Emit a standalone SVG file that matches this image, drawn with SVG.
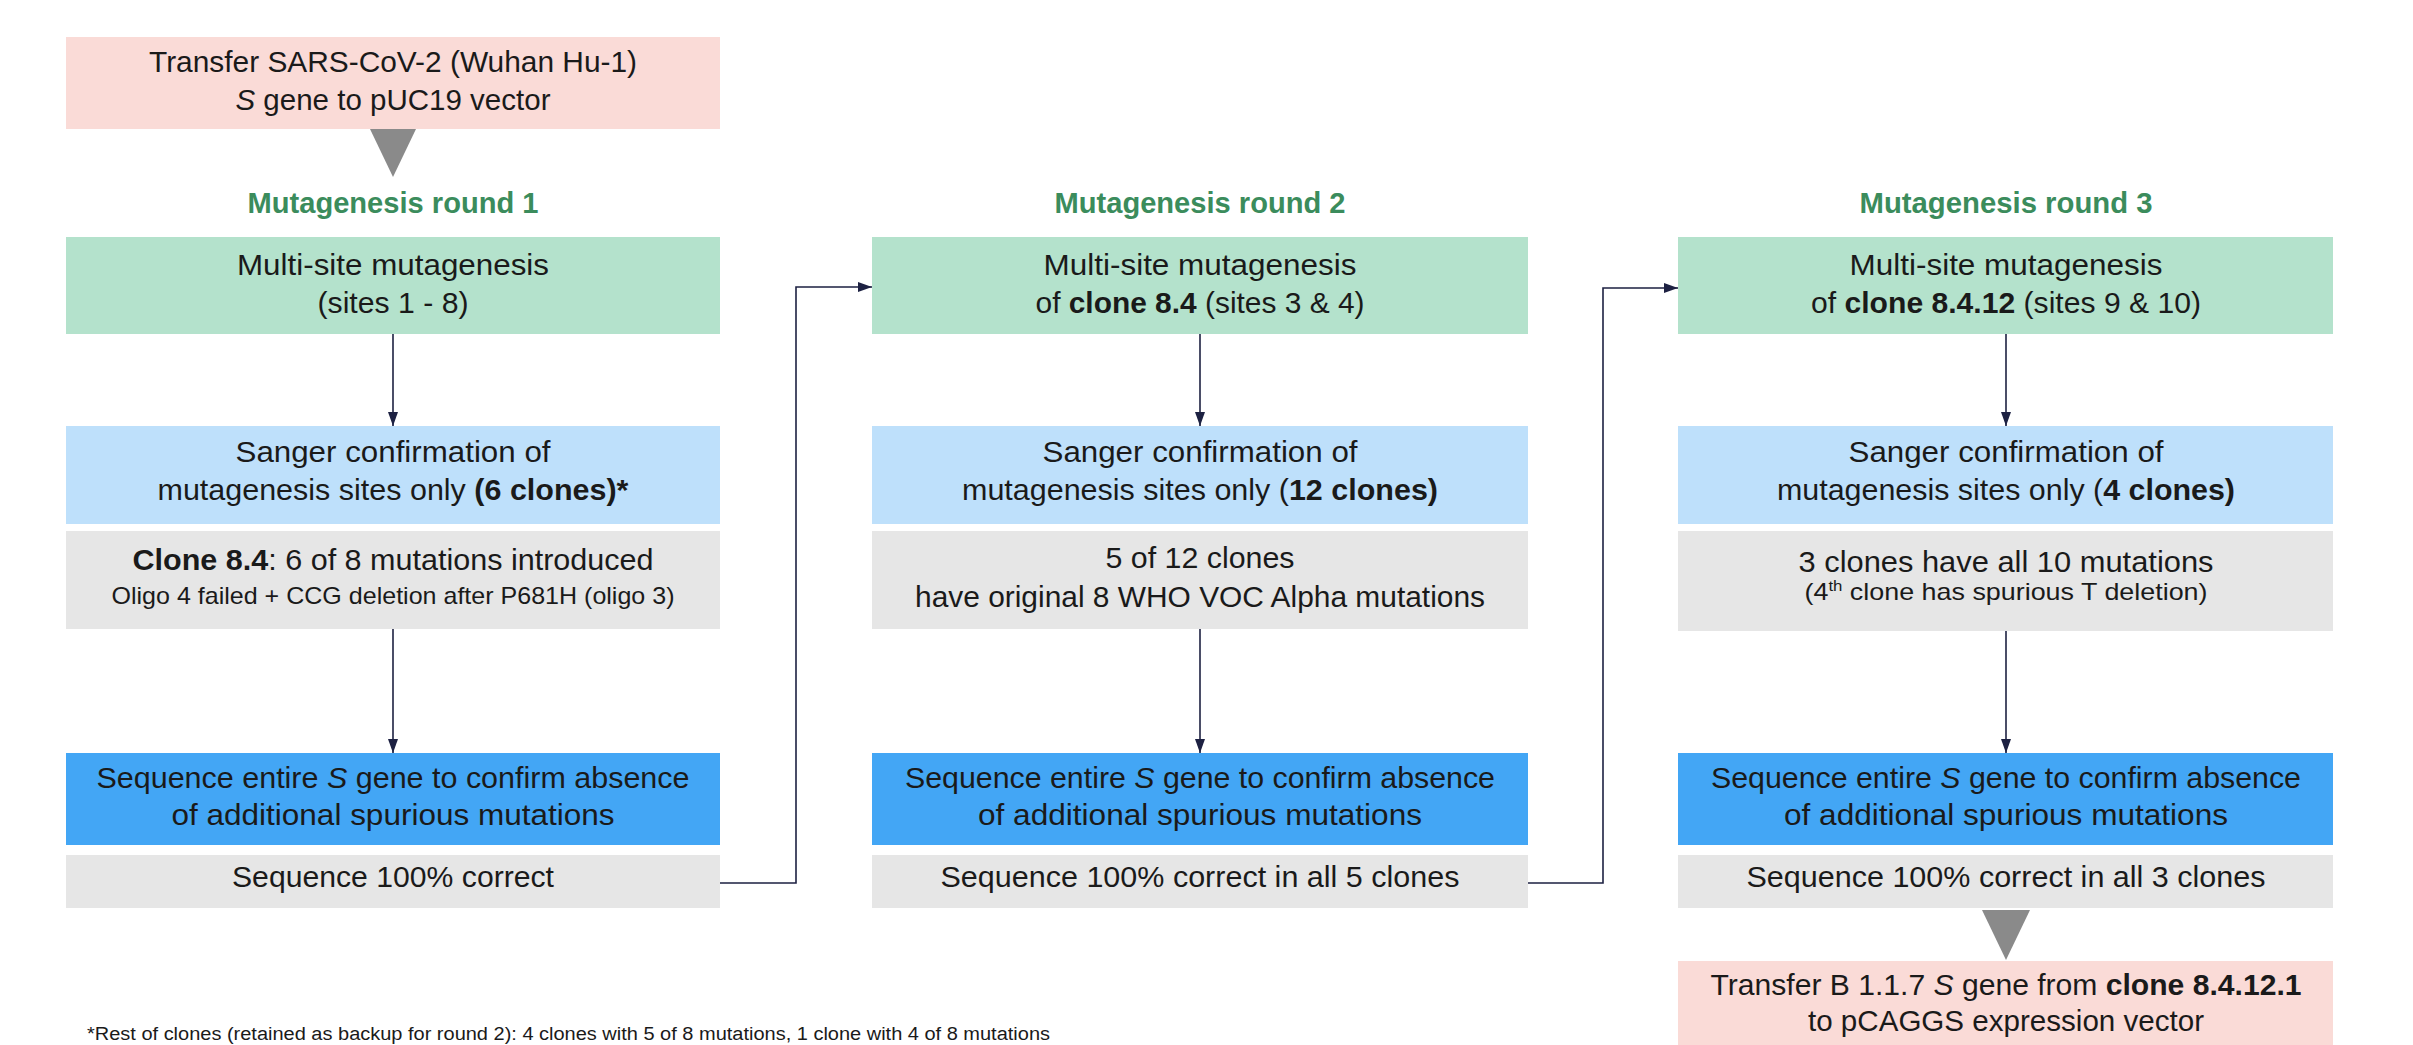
<svg xmlns="http://www.w3.org/2000/svg" width="2413" height="1045" viewBox="0 0 2413 1045">
<style>
  .t { font-family: "Liberation Sans", Arial, sans-serif; font-size: 29px; fill: #1a1a1a; text-anchor: middle; }
  .s { font-size: 24px; }
  .title { font-family: "Liberation Sans", Arial, sans-serif; font-size: 29px; font-weight: bold; fill: #3b8c5c; text-anchor: middle; }
  .b { font-weight: bold; }
  .i { font-style: italic; }
  .pink { fill: #fadbd7; }
  .green { fill: #b4e2cc; }
  .lblue { fill: #bee0fb; }
  .grey { fill: #e6e6e6; }
  .blue { fill: #43a6f5; }
  .tri { fill: #8a8a8a; }
  .conn { fill: none; stroke: #1d2142; stroke-width: 1.6; }
  .foot { font-family: "Liberation Sans", Arial, sans-serif; font-size: 18px; fill: #1a1a1a; }
</style>
<defs>
  <marker id="ah" viewBox="0 0 14 10" refX="14" refY="5" markerWidth="14" markerHeight="10" markerUnits="userSpaceOnUse" orient="auto">
    <path d="M0,0 L14,5 L0,10 z" fill="#1d2142"/>
  </marker>
</defs>
<rect width="2413" height="1045" fill="#ffffff"/>

<!-- Column 1 -->
<g id="start">
  <rect class="pink" x="66" y="37" width="654" height="92"/>
  <text class="t" x="393" y="72" textLength="488" lengthAdjust="spacingAndGlyphs">Transfer SARS-CoV-2 (Wuhan Hu-1)</text>
  <text class="t" x="393" y="110" textLength="315" lengthAdjust="spacingAndGlyphs"><tspan class="i">S</tspan> gene to pUC19 vector</text>
</g>
<g id="tri1"><polygon class="tri" points="370,129 416,129 393,177"/></g>
<g id="title1"><text class="title" x="393" y="213" textLength="291" lengthAdjust="spacingAndGlyphs">Mutagenesis round 1</text></g>
<g id="r1-mut">
  <rect class="green" x="66" y="237" width="654" height="97"/>
  <text class="t" x="393" y="275" textLength="312" lengthAdjust="spacingAndGlyphs">Multi-site mutagenesis</text>
  <text class="t" x="393" y="313" textLength="151" lengthAdjust="spacingAndGlyphs">(sites 1 - 8)</text>
</g>
<g id="r1-sanger">
  <rect class="lblue" x="66" y="426" width="654" height="98"/>
  <text class="t" x="393" y="462" textLength="315" lengthAdjust="spacingAndGlyphs">Sanger confirmation of</text>
  <text class="t" x="393" y="500" textLength="471" lengthAdjust="spacingAndGlyphs">mutagenesis sites only <tspan class="b">(6 clones)*</tspan></text>
</g>
<g id="r1-result">
  <rect class="grey" x="66" y="531" width="654" height="98"/>
  <text class="t" x="393" y="570" textLength="521" lengthAdjust="spacingAndGlyphs"><tspan class="b">Clone 8.4</tspan>: 6 of 8 mutations introduced</text>
  <text class="t s" x="393" y="604" textLength="563" lengthAdjust="spacingAndGlyphs">Oligo 4 failed + CCG deletion after P681H (oligo 3)</text>
</g>
<g id="r1-seq">
  <rect class="blue" x="66" y="753" width="654" height="92"/>
  <text class="t" x="393" y="788" textLength="593" lengthAdjust="spacingAndGlyphs">Sequence entire <tspan class="i">S</tspan> gene to confirm absence</text>
  <text class="t" x="393" y="825" textLength="443" lengthAdjust="spacingAndGlyphs">of additional spurious mutations</text>
</g>
<g id="r1-ok">
  <rect class="grey" x="66" y="855" width="654" height="53"/>
  <text class="t" x="393" y="887" textLength="322" lengthAdjust="spacingAndGlyphs">Sequence 100% correct</text>
</g>

<!-- Column 2 -->
<g id="title2"><text class="title" x="1200" y="213" textLength="291" lengthAdjust="spacingAndGlyphs">Mutagenesis round 2</text></g>
<g id="r2-mut">
  <rect class="green" x="872" y="237" width="656" height="97"/>
  <text class="t" x="1200" y="275" textLength="313" lengthAdjust="spacingAndGlyphs">Multi-site mutagenesis</text>
  <text class="t" x="1200" y="313" textLength="329" lengthAdjust="spacingAndGlyphs">of <tspan class="b">clone 8.4</tspan> (sites 3 &amp; 4)</text>
</g>
<g id="r2-sanger">
  <rect class="lblue" x="872" y="426" width="656" height="98"/>
  <text class="t" x="1200" y="462" textLength="315" lengthAdjust="spacingAndGlyphs">Sanger confirmation of</text>
  <text class="t" x="1200" y="500" textLength="476" lengthAdjust="spacingAndGlyphs">mutagenesis sites only (<tspan class="b">12 clones)</tspan></text>
</g>
<g id="r2-result">
  <rect class="grey" x="872" y="531" width="656" height="98"/>
  <text class="t" x="1200" y="568" textLength="189" lengthAdjust="spacingAndGlyphs">5 of 12 clones</text>
  <text class="t" x="1200" y="607" textLength="570" lengthAdjust="spacingAndGlyphs">have original 8 WHO VOC Alpha mutations</text>
</g>
<g id="r2-seq">
  <rect class="blue" x="872" y="753" width="656" height="92"/>
  <text class="t" x="1200" y="788" textLength="590" lengthAdjust="spacingAndGlyphs">Sequence entire <tspan class="i">S</tspan> gene to confirm absence</text>
  <text class="t" x="1200" y="825" textLength="444" lengthAdjust="spacingAndGlyphs">of additional spurious mutations</text>
</g>
<g id="r2-ok">
  <rect class="grey" x="872" y="855" width="656" height="53"/>
  <text class="t" x="1200" y="887" textLength="519" lengthAdjust="spacingAndGlyphs">Sequence 100% correct in all 5 clones</text>
</g>

<!-- Column 3 -->
<g id="title3"><text class="title" x="2006" y="213" textLength="293" lengthAdjust="spacingAndGlyphs">Mutagenesis round 3</text></g>
<g id="r3-mut">
  <rect class="green" x="1678" y="237" width="655" height="97"/>
  <text class="t" x="2006" y="275" textLength="313" lengthAdjust="spacingAndGlyphs">Multi-site mutagenesis</text>
  <text class="t" x="2006" y="313" textLength="390" lengthAdjust="spacingAndGlyphs">of <tspan class="b">clone 8.4.12</tspan> (sites 9 &amp; 10)</text>
</g>
<g id="r3-sanger">
  <rect class="lblue" x="1678" y="426" width="655" height="98"/>
  <text class="t" x="2006" y="462" textLength="315" lengthAdjust="spacingAndGlyphs">Sanger confirmation of</text>
  <text class="t" x="2006" y="500" textLength="458" lengthAdjust="spacingAndGlyphs">mutagenesis sites only (<tspan class="b">4 clones)</tspan></text>
</g>
<g id="r3-result">
  <rect class="grey" x="1678" y="531" width="655" height="100"/>
  <text class="t" x="2006" y="572" textLength="415" lengthAdjust="spacingAndGlyphs">3 clones have all 10 mutations</text>
  <text class="t s" x="2006" y="600" textLength="403" lengthAdjust="spacingAndGlyphs">(4<tspan font-size="15" dy="-9">th</tspan><tspan dy="9"> clone has spurious T deletion)</tspan></text>
</g>
<g id="r3-seq">
  <rect class="blue" x="1678" y="753" width="655" height="92"/>
  <text class="t" x="2006" y="788" textLength="590" lengthAdjust="spacingAndGlyphs">Sequence entire <tspan class="i">S</tspan> gene to confirm absence</text>
  <text class="t" x="2006" y="825" textLength="444" lengthAdjust="spacingAndGlyphs">of additional spurious mutations</text>
</g>
<g id="r3-ok">
  <rect class="grey" x="1678" y="855" width="655" height="53"/>
  <text class="t" x="2006" y="887" textLength="519" lengthAdjust="spacingAndGlyphs">Sequence 100% correct in all 3 clones</text>
</g>
<g id="tri2"><polygon class="tri" points="1982,910 2030,910 2006,960"/></g>
<g id="end">
  <rect class="pink" x="1678" y="961" width="655" height="92"/>
  <text class="t" x="2006" y="995" textLength="591" lengthAdjust="spacingAndGlyphs">Transfer B 1.1.7 <tspan class="i">S</tspan> gene from <tspan class="b">clone 8.4.12.1</tspan></text>
  <text class="t" x="2006" y="1031" textLength="396" lengthAdjust="spacingAndGlyphs">to pCAGGS expression vector</text>
</g>

<!-- Connectors -->
<g id="connectors">
  <line class="conn" x1="393" y1="334" x2="393" y2="426" marker-end="url(#ah)"/>
  <line class="conn" x1="393" y1="629" x2="393" y2="753" marker-end="url(#ah)"/>
  <line class="conn" x1="1200" y1="334" x2="1200" y2="426" marker-end="url(#ah)"/>
  <line class="conn" x1="1200" y1="629" x2="1200" y2="753" marker-end="url(#ah)"/>
  <line class="conn" x1="2006" y1="334" x2="2006" y2="426" marker-end="url(#ah)"/>
  <line class="conn" x1="2006" y1="631" x2="2006" y2="753" marker-end="url(#ah)"/>
  <polyline class="conn" points="720,883 796,883 796,287 872,287" marker-end="url(#ah)"/>
  <polyline class="conn" points="1528,883 1603,883 1603,288 1678,288" marker-end="url(#ah)"/>
</g>

<g id="footnote">
  <text class="foot" x="87" y="1040" textLength="963" lengthAdjust="spacingAndGlyphs">*Rest of clones (retained as backup for round 2): 4 clones with 5 of 8 mutations, 1 clone with 4 of 8 mutations</text>
</g>
</svg>
